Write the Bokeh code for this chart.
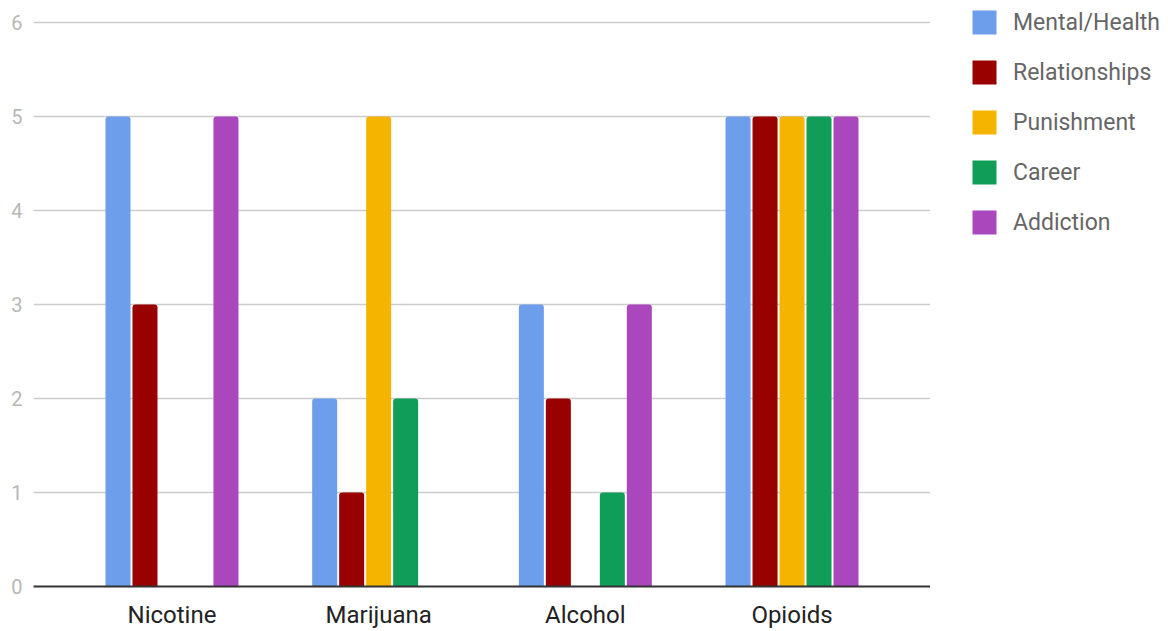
from bokeh.plotting import figure
from bokeh.layouts import row
from bokeh.models import FactorRange, Range1d, ColumnDataSource, Legend, LegendItem, FixedTicker
from bokeh.transform import dodge
from bokeh.embed import file_html
from bokeh.resources import INLINE

categories = ["Nicotine", "Marijuana", "Alcohol", "Opioids"]
series_names = ["Mental/Health", "Relationships", "Punishment", "Career", "Addiction"]
mental_health = [5, 2, 3, 5]
relationships = [3, 1, 2, 5]
punishment = [0, 5, 0, 5]
career = [0, 2, 1, 5]
addiction = [5, 0, 3, 5]
y_ticks = [0, 1, 2, 3, 4, 5, 6]

colors = ["#6d9eeb", "#990000", "#f4b400", "#0f9d58", "#ab47bc"]
series_values = [mental_health, relationships, punishment, career, addiction]

data = {"cat": categories}
keys = ["s0", "s1", "s2", "s3", "s4"]
for k, v in zip(keys, series_values):
    data[k] = v
source = ColumnDataSource(data)

x_range = FactorRange(factors=categories, range_padding=0.085)
p = figure(x_range=x_range, y_range=Range1d(0, 6.18), width=930, height=631,
           output_backend="svg", toolbar_location=None,
           min_border_left=33, min_border_right=0, min_border_top=5, min_border_bottom=44)

pitch = 0.1306
bar_w = 0.121
for i, (k, c) in enumerate(zip(keys, colors)):
    p.vbar(x=dodge("cat", (i - 2) * pitch, range=p.x_range), top=k, width=bar_w,
           source=source, fill_color=c, line_color=None,
           border_radius=(3, 3, 0, 0))

p.outline_line_color = None
p.xgrid.grid_line_color = None
p.ygrid.grid_line_color = "#cccccc"
p.ygrid.grid_line_width = 1.5
p.yaxis.ticker = FixedTicker(ticks=y_ticks)
p.yaxis.axis_line_color = None
p.yaxis.major_tick_line_color = None
p.yaxis.minor_tick_line_color = None
p.yaxis.major_tick_out = 0
p.yaxis.major_label_standoff = 11
p.yaxis.major_label_text_font = "Roboto"
p.yaxis.major_label_text_font_size = "20px"
p.yaxis.major_label_text_color = "#b7b7b7"

p.xaxis.axis_line_color = "#333333"
p.xaxis.axis_line_width = 2
p.xaxis.major_tick_line_color = None
p.xaxis.minor_tick_line_color = None
p.xaxis.major_tick_out = 0
p.xaxis.major_label_standoff = 14
p.xaxis.major_label_text_font = "Roboto"
p.xaxis.major_label_text_font_size = "24px"
p.xaxis.major_label_text_color = "#222222"

# legend panel (its frame is aligned with the chart's frame by the row layout)
lg = figure(width=238, height=631, output_backend="svg", toolbar_location=None,
            x_range=Range1d(0, 1), y_range=Range1d(0, 1),
            x_axis_type=None, y_axis_type=None, min_border=0)
lg.outline_line_color = None
lg.grid.grid_line_color = None
items = []
for name, c in zip(series_names, colors):
    r = lg.vbar(x=[0], top=[0], width=0, fill_color=c, line_color=None,
                border_radius=2)
    items.append(LegendItem(label=name, renderers=[r]))
legend = Legend(items=items, location=(39, 349), padding=0, margin=0,
                glyph_width=30, glyph_height=30, spacing=20, label_standoff=14,
                label_text_font="Roboto", label_text_font_size="23px",
                label_text_color="#666666", border_line_color=None,
                background_fill_alpha=0, label_height=30)
lg.add_layout(legend, "center")

layout = row(p, lg, spacing=0)
open("out.html", "w").write(file_html(layout, INLINE))
